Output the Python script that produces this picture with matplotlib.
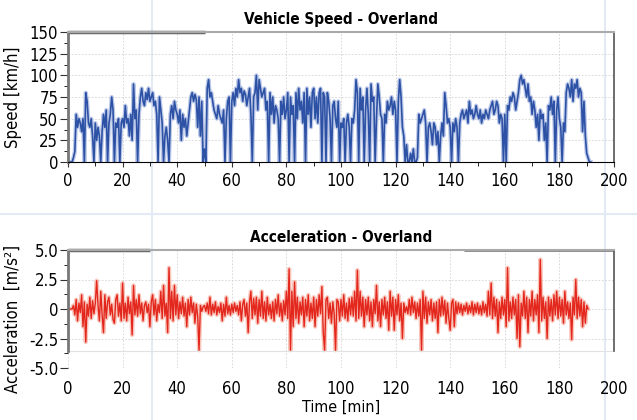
import numpy as np
import matplotlib
matplotlib.use("Agg")
import matplotlib.pyplot as plt
from matplotlib.lines import Line2D

plt.rcParams['font.family'] = ['DejaVu Sans']
plt.rcParams['font.stretch'] = 'condensed'

# speed [km/h], one value every 0.5 min
speed = [
    0, 0, 0, 0, 5, 12, 55, 40, 50, 45, 35, 50, 0, 80, 70, 45, 40, 50, 30, 0,
    45, 25, 40, 30, 0, 35, 55, 40, 60, 0, 45, 55, 75, 60, 0, 45, 40, 50, 0, 45,
    50, 40, 65, 45, 50, 30, 55, 25, 90, 50, 60, 0, 55, 75, 85, 70, 65, 80, 72, 85,
    70, 75, 80, 65, 70, 55, 0, 75, 60, 45, 0, 30, 40, 25, 0, 55, 65, 50, 70, 60,
    55, 45, 60, 25, 55, 40, 50, 30, 45, 60, 75, 80, 70, 78, 72, 40, 75, 30, 70, 0,
    15, 0, 85, 95, 75, 80, 70, 60, 55, 50, 65, 55, 50, 45, 60, 0, 50, 70, 75, 0,
    70, 80, 65, 85, 75, 95, 80, 85, 70, 82, 78, 65, 75, 85, 55, 0, 75, 80, 100, 60,
    95, 85, 75, 80, 85, 60, 70, 0, 80, 55, 75, 45, 65, 60, 50, 0, 70, 55, 75, 50,
    60, 80, 0, 75, 55, 65, 0, 80, 50, 85, 60, 70, 45, 80, 0, 85, 55, 75, 40, 80,
    85, 50, 75, 45, 80, 85, 0, 80, 75, 0, 80, 70, 50, 0, 65, 70, 50, 40, 70, 0,
    45, 40, 50, 0, 45, 55, 40, 0, 50, 45, 60, 95, 80, 0, 85, 60, 75, 0, 60, 85,
    55, 0, 90, 70, 75, 0, 50, 90, 75, 55, 50, 0, 55, 45, 70, 60, 65, 75, 55, 70,
    60, 0, 70, 95, 75, 40, 30, 0, 20, 0, 0, 10, 0, 15, 0, 0, 5, 55, 45, 50,
    55, 60, 45, 0, 40, 45, 35, 20, 45, 40, 20, 35, 0, 30, 45, 30, 80, 65, 45, 50,
    40, 0, 45, 35, 50, 40, 0, 45, 55, 60, 50, 55, 60, 45, 70, 55, 60, 50, 55, 65,
    55, 50, 60, 45, 55, 50, 60, 55, 50, 60, 65, 70, 55, 60, 70, 65, 45, 55, 50, 0,
    55, 0, 65, 60, 75, 70, 80, 75, 60, 70, 80, 95, 100, 90, 95, 85, 75, 90, 70, 75,
    55, 70, 60, 40, 55, 25, 60, 50, 55, 25, 45, 0, 65, 60, 75, 55, 70, 0, 60, 75,
    50, 40, 0, 45, 35, 80, 90, 85, 75, 95, 70, 90, 85, 95, 75, 85, 80, 35, 70, 30,
    10, 5, 0, 0,
]

# acceleration [m/s2], one value every 0.5 min
accel = [
    0, 0, 0, 0, 0.3, -0.5, 0.8, -1.0, 0.5, -0.3, 1.2, -1.5, 0.6, -2.8, 0.4, -0.6, 1.0, -0.8, 0.7, -0.4,
    0.5, 2.4, 0.3, -1.0, 1.5, -0.5, -2.0, 1.2, -0.8, 0.6, 1.0, -0.5, 0.4, -0.9, -1.2, 0.8, 1.2, -0.6, 0.5, -1.0,
    2.2, -0.8, 0.5, -1.0, 1.0, -0.4, 0.6, -2.2, 2.0, -0.5, 0.8, -0.6, 1.2, -0.4, 0.5, -1.0, 0.3, 0.6, -0.3, 0.4,
    -1.5, 0.6, 1.2, -0.5, 0.8, -1.0, 0.4, -0.3, 1.5, -0.8, 2.0, -0.6, 0.5, -2.0, 3.5, -0.8, 1.5, -1.0, 2.0, -0.5,
    1.2, -0.8, 0.6, -0.4, 1.0, -0.6, 0.5, -1.5, 0.8, -0.5, 1.0, -0.3, 0.5, -1.2, 0.4, -0.6, -3.5, 0.3, -0.2, 0.2,
    0.3, -0.2, 0.5, -0.4, 1.0, -0.5, 0.4, -0.3, 0.6, -0.5, 0.2, -0.3, 0.5, -1.0, 0.4, -0.6, 1.0, -0.4, 0.3, -0.5,
    0.4, -0.3, 0.5, -0.2, 0.3, -0.5, 0.6, -1.0, 0.4, 0.8, -0.6, 0.5, -2.0, 0.6, 1.5, -0.8, 0.9, -0.5, 1.0, -1.2,
    0.8, -0.6, 1.5, -0.8, 0.6, -1.0, 1.0, -0.5, 0.4, -0.8, 0.6, -1.0, 0.8, -0.4, 1.2, -0.6, 0.5, -1.0, 0.7, -0.5,
    1.5, -0.8, 3.4, -3.5, 1.5, -1.5, 2.3, -0.8, 1.0, -1.2, 0.6, -0.5, 1.0, -1.5, 0.8, -0.6, 1.2, -1.0, 0.5, -0.8,
    1.0, -1.5, 0.8, -0.6, 1.2, -0.4, 1.9, -2.0, -3.5, 0.8, 1.0, -0.8, 0.5, -1.2, 0.6, -0.4, -3.5, 0.8, 0.6, -1.0,
    0.8, -0.6, 1.2, -0.8, 0.5, -1.0, 0.9, -0.5, 1.0, -0.6, 1.5, -1.0, 3.3, -0.8, 1.5, -0.6, 1.0, -1.5, 0.8, -0.5,
    1.0, -1.0, 0.6, -1.5, 0.8, -0.4, 2.0, -1.0, 0.6, -1.5, 0.8, -0.5, 1.0, -0.8, 0.6, -1.8, 1.5, -0.6, 1.0, -1.8,
    0.8, -0.5, 1.2, -1.0, 0.5, -2.5, 0.5, -0.3, 0.2, -0.4, 0.8, -0.5, 1.0, -0.3, 0.6, -0.8, 0.5, -0.6, 0.8, -3.5,
    1.5, -0.8, 1.0, -1.2, 0.6, -0.5, 0.8, -1.0, 0.5, -0.8, 0.6, -2.0, 0.8, -0.6, 1.0, -0.5, 0.7, -1.2, 0.5, -0.8,
    -1.8, 0.5, 0.8, -1.5, 0.6, -0.4, 0.5, -0.3, 0.4, -0.5, 0.3, -0.2, 0.5, -0.4, 0.3, -0.3, 0.6, -0.5, 0.4, -0.3,
    0.5, -0.4, 0.3, -0.5, 0.6, -0.3, 0.4, -0.6, 1.5, -0.5, 2.2, -0.8, 1.0, -0.6, 0.8, -2.0, 0.6, -0.8, 1.0, -0.5,
    0.8, -1.5, 3.5, -1.0, 0.6, -0.8, 1.0, -0.5, 0.8, -2.5, 1.2, -3.2, 0.5, -0.6, 1.5, -0.8, 1.0, -2.0, 0.8, -0.6,
    1.5, -1.0, 0.8, -0.5, 1.2, -2.0, 4.2, -1.0, 1.0, -0.8, 0.6, -2.5, 1.0, -0.6, 0.8, -1.0, 1.2, -0.5, 1.5, -0.8,
    1.0, -0.6, 0.8, -1.2, 1.5, -0.5, 0.6, -0.8, 0.5, -2.6, 1.0, -0.5, 2.5, -0.8, 1.0, -0.6, 0.8, -1.5, 0.6, -1.2,
    0.3, 0,
]

t_speed = np.arange(len(speed)) * 0.5
t_accel = np.arange(len(accel)) * 0.5

fig = plt.figure(figsize=(6.37, 4.2), dpi=100)

# faint page guide lines behind the charts
for xx in [152 / 637, 605 / 637]:
    fig.add_artist(Line2D([xx, xx], [0, 1], color="#e3eaf5", lw=1.5, zorder=0))
fig.add_artist(Line2D([0, 1], [1 - 214 / 420, 1 - 214 / 420], color="#e3eaf5", lw=1.5, zorder=0))

ax1 = fig.add_axes([68 / 637, 1 - 162 / 420, 546 / 637, 130 / 420])
ax2 = fig.add_axes([68 / 637, 1 - 368 / 420, 546 / 637, 118 / 420])
ax1.patch.set_alpha(0)
ax2.patch.set_alpha(0)

# speed
ax1.plot(t_speed, speed, color="#a9b9e2", lw=3.0, alpha=0.75)
ax1.plot(t_speed, speed, color="#2d52a5", lw=1.2)
ax1.set_xlim(0, 200)
ax1.set_ylim(0, 150)
ax1.set_yticks([0, 25, 50, 75, 100, 125, 150])
ax1.set_yticks(np.arange(0, 150, 12.5), minor=True)
ax1.set_xticks(range(0, 201, 20))
ax1.set_xticks(range(0, 201, 10), minor=True)
ax1.set_title("Vehicle Speed - Overland", fontsize=11, fontweight="bold", pad=6)
ax1.set_ylabel("Speed [km/h]", fontsize=12)
ax1.yaxis.set_label_coords(-0.085, 0.5)

# acceleration
ax2.plot(t_accel, accel, color="#f7b0a2", lw=3.0, alpha=0.75)
ax2.plot(t_accel, accel, color="#e3271d", lw=1.0)
ax2.set_xlim(0, 200)
ax2.set_ylim(-5, 5)
ax2.set_yticks([-5, -2.5, 0, 2.5, 5])
ax2.set_yticklabels(["-5.0", "-2.5", "0", "2.5", "5.0"])
ax2.set_yticks(np.arange(-5, 5, 1.25), minor=True)
ax2.set_xticks(range(0, 201, 20))
ax2.set_title("Acceleration - Overland", fontsize=11, fontweight="bold", pad=6)
ax2.set_ylabel("Acceleration  [m/s²]", fontsize=12)
ax2.yaxis.set_label_coords(-0.085, 0.42)
ax2.set_xlabel("Time [min]", fontsize=11.5, labelpad=1)
ax2.spines["bottom"].set_visible(False)
ax2.spines["left"].set_bounds(-3.6, 5)
ax2.spines["right"].set_bounds(-3.6, 5)
ax2.axhline(-3.6, color="#e2e2e2", lw=0.8)
ax2.tick_params(axis="x", length=0, pad=9)

for ax in [ax1, ax2]:
    ax.grid(True, color="#d2d2d2", ls=(0, (2, 2)), lw=0.6)
    ax.tick_params(labelsize=12, color="#333333")
    ax.tick_params(axis="y", which="major", length=6, pad=1)
    ax.tick_params(axis="y", which="minor", length=3)
    ax.tick_params(axis="x", which="minor", length=3)
    ax.spines["left"].set_color("#777777")
    ax.spines["left"].set_linewidth(2)
    ax.spines["right"].set_color("#555555")
    ax.spines["right"].set_linewidth(1.2)
    ax.spines["top"].set_color("#aaaaaa")
    ax.spines["top"].set_linewidth(1.5)

# darker segments on the top frame
ax1.plot([0, 50], [150, 150], color="#6a6a6a", lw=2.5, clip_on=False, solid_capstyle="butt")
ax2.plot([0, 30], [5, 5], color="#6a6a6a", lw=2.5, clip_on=False, solid_capstyle="butt")
ax2.plot([145, 200], [5, 5], color="#6a6a6a", lw=1.8, clip_on=False, solid_capstyle="butt")

plt.savefig("out.png", dpi=100)
